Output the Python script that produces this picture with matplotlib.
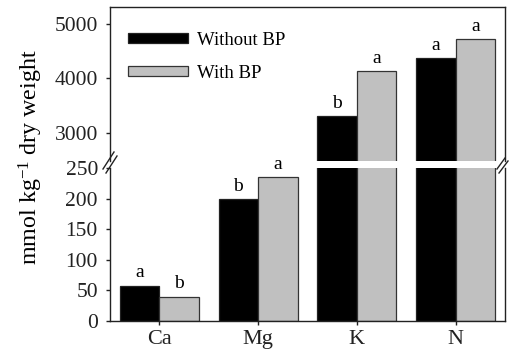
import matplotlib
matplotlib.use("Agg")
import matplotlib.pyplot as plt
from matplotlib.patches import Patch
from matplotlib.lines import Line2D
import numpy as np

plt.rcParams['font.family'] = ['Liberation Serif', 'DejaVu Serif']
plt.rcParams['mathtext.fontset'] = 'custom'
plt.rcParams['mathtext.rm'] = 'Liberation Serif'
plt.rcParams['mathtext.it'] = 'Liberation Serif:italic'

categories = ['Ca', 'Mg', 'K', 'N']
without_bp = [58, 200, 3300, 4370]
with_bp = [40, 235, 4140, 4725]
letters_without = ['a', 'b', 'b', 'a']
letters_with = ['b', 'a', 'a', 'a']
series_labels = ['Without BP', 'With BP']
colors = ['#000000', '#c0c0c0']
top_ticks = [3000, 4000, 5000]
bottom_ticks = [0, 50, 100, 150, 200, 250]

W, H = 510, 352
fig = plt.figure(figsize=(W / 100, H / 100), dpi=100)

def rect(l, t, r, b):
    return [l / W, 1 - b / H, (r - l) / W, (b - t) / H]

ax_top = fig.add_axes(rect(110, 7, 505, 161.5))
ax_bot = fig.add_axes(rect(110, 168.3, 505, 321))

x = np.arange(len(categories))
w = 0.4
for ax in (ax_top, ax_bot):
    ax.bar(x - w / 2, without_bp, w, color=colors[0], edgecolor='#222222', linewidth=0.9, zorder=2)
    ax.bar(x + w / 2, with_bp, w, color=colors[1], edgecolor='#333333', linewidth=0.9, zorder=2)
    ax.set_xlim(-0.5, 3.5)
    for s in ax.spines.values():
        s.set_linewidth(1.0)
        s.set_color('#222222')
    ax.tick_params(axis='both', direction='out', length=3.2, width=1, labelsize=15.5, colors='#222222')

ax_top.set_ylim(2470, 5313)
ax_bot.set_ylim(0, 250)
ax_top.set_yticks(top_ticks)
ax_bot.set_yticks(bottom_ticks)
ax_top.spines['bottom'].set_visible(False)
ax_bot.spines['top'].set_visible(False)
ax_top.set_xticks([])
ax_bot.set_xticks(x)
ax_bot.set_xticklabels(categories, fontsize=16)
ax_bot.tick_params(axis='x', pad=3.5)
ax_top.tick_params(axis='y', pad=5.5)
ax_bot.tick_params(axis='y', pad=5.5)

for i in range(len(categories)):
    ax = ax_bot if without_bp[i] < 250 and with_bp[i] < 250 else ax_top
    ax.annotate(letters_without[i], (x[i] - w / 2, without_bp[i]), xytext=(0, 3),
                textcoords='offset points', ha='center', va='bottom', fontsize=14)
    ax.annotate(letters_with[i], (x[i] + w / 2, with_bp[i]), xytext=(0, 3),
                textcoords='offset points', ha='center', va='bottom', fontsize=14)

handles = [Patch(facecolor=colors[0], edgecolor='#222222', linewidth=0.9),
           Patch(facecolor=colors[1], edgecolor='#333333', linewidth=0.9)]
ax_top.legend(handles, series_labels, loc='upper left', bbox_to_anchor=(0.045, 0.84),
              frameon=False, fontsize=13.5, handlelength=3.2, handleheight=0.42,
              labelspacing=0.85, borderpad=0, borderaxespad=0, handletextpad=0.5)

fig.text(31 / W, 1 - 157 / H, 'mmol kg$^{-1}$ dry weight', rotation=90,
         ha='center', va='center', fontsize=17.3)

# break marks
def brk(x0, y0, x1, y1):
    fig.add_artist(Line2D([x0 / W, x1 / W], [1 - y0 / H, 1 - y1 / H], color='#222222', lw=1.0))

brk(103, 169, 114, 152)
brk(106, 173, 117, 156)
brk(497, 169, 505, 158)
brk(499, 173, 508, 161)

fig.savefig('out.png', dpi=100)
